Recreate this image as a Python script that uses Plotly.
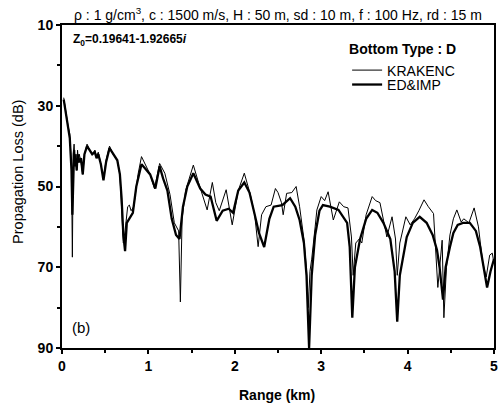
import plotly.graph_objects as go

# KRAKENC (thin line)
range_krakenc = [0.02,0.04,0.07,0.09,0.10,0.11,0.12,0.125,0.13,0.14,0.15,0.16,0.17,0.18,0.19,0.20,0.22,0.24,0.26,0.29,
                 0.32,0.35,0.38,0.40,0.42,0.45,0.48,0.51,0.55,0.59,0.64,0.67,0.69,0.71,0.73,0.76,0.78,0.80,0.83,0.88,
                 0.92,0.96,1.02,1.07,1.13,1.19,1.25,1.30,1.35,1.37,1.39,1.43,1.52,1.58,1.62,1.68,1.74,1.78,1.82,1.90,
                 1.97,2.04,2.11,2.18,2.23,2.27,2.31,2.36,2.42,2.47,2.50,2.54,2.56,2.60,2.66,2.71,2.75,2.80,2.83,2.85,
                 2.87,2.89,2.93,2.95,3.00,3.04,3.08,3.14,3.21,3.26,3.31,3.35,3.37,3.40,3.44,3.47,3.52,3.59,3.63,3.68,
                 3.76,3.82,3.86,3.88,3.91,3.98,4.03,4.08,4.13,4.19,4.24,4.30,4.35,4.40,4.42,4.45,4.49,4.53,4.57,4.62,
                 4.65,4.71,4.77,4.82,4.87,4.91,4.95,4.98,5.00]
loss_krakenc = [28,31,35,37,40,45,67.5,48,42,39.5,44,42,46,41,44,42,44,47,42,39.5,
                41,42,41,42.5,41.5,44.5,48,43.5,40,42,43.5,47,54,64,61,55,54.6,56,55,47,
                42.6,44.5,47,50.5,44.3,46.7,52,59,61,78.6,58,51,44.7,49,51.7,55.8,49,54,56,50.8,
                59.5,51,46.7,52,57,64.9,57,55,54.6,50.5,51.5,54,57,51.7,51.5,50,55,63,70.6,80,
                71,68,60,55.8,52.5,53.5,51.3,58.3,53.8,55,55.3,62.5,72,64,63,64,57,52.5,53.5,54,
                62.5,57.5,63,72,64,57.5,59.5,58,56,53.3,55,56.7,75,63.3,82.5,70,62,58,55.8,58.8,
                58,59,55.3,60,69,72.4,67,66.5,69]

# ED&IMP (thick line)
range_edimp = [0.02,0.04,0.07,0.09,0.10,0.11,0.12,0.13,0.14,0.15,0.16,0.17,0.18,0.20,0.22,0.24,0.26,0.29,0.32,0.35,
               0.38,0.40,0.42,0.45,0.48,0.51,0.55,0.59,0.64,0.67,0.69,0.71,0.73,0.75,0.78,0.82,0.86,0.92,0.96,1.02,
               1.08,1.13,1.17,1.22,1.27,1.32,1.36,1.40,1.45,1.52,1.60,1.66,1.72,1.79,1.86,1.93,1.98,2.04,2.11,2.17,
               2.22,2.28,2.34,2.40,2.45,2.55,2.64,2.70,2.75,2.80,2.83,2.86,2.89,2.93,2.98,3.02,3.10,3.20,3.30,3.33,
               3.36,3.39,3.45,3.52,3.59,3.65,3.72,3.80,3.85,3.88,3.91,3.99,4.06,4.14,4.22,4.29,4.34,4.37,4.41,4.44,
               4.49,4.53,4.58,4.64,4.72,4.79,4.84,4.88,4.92,4.96,5.00]
loss_edimp = [28.5,31,35,38,42,46,57,44,41,45,43,46,42,44,43,47,42,40,41,42,
              41.5,43,42,44.5,48.5,44,40.5,42,43.5,47,53,62,66,59,58,56.5,50,44.5,45.5,47,
              50.5,45,48,51,58,62,63,55,50,46.7,50.5,52,52.5,58.5,56,55.5,56.5,51,49,51.5,
              56,61.5,65,58,55,54.6,52.9,55,58.3,64,72,90,72,62,56,54.6,55,55.8,59,65,
              82.5,70,63,58,55.8,56.5,59,63,71,83.5,72,62.5,59,57.5,59,62,65.7,70,78,70,
              65,61.5,59.5,59,59,61,65,70,75,71,68]

x_ticks = [0, 1, 2, 3, 4, 5]
y_ticks = [10, 30, 50, 70, 90]

FONT = "Liberation Sans"

fig = go.Figure()
fig.add_trace(go.Scatter(x=range_krakenc, y=loss_krakenc, mode="lines", name="KRAKENC",
                         line=dict(color="black", width=1), legend="legend"))
fig.add_trace(go.Scatter(x=range_edimp, y=loss_edimp, mode="lines", name="ED&IMP",
                         line=dict(color="black", width=2.3), legend="legend2"))

axis_common = dict(showline=True, linecolor="black", linewidth=2, mirror=True,
                   ticks="outside", ticklen=4, tickwidth=1.5, tickcolor="black",
                   showgrid=False, zeroline=False, automargin=False,
                   tickfont=dict(family=FONT, size=14, color="black", weight="bold"))

fig.update_xaxes(range=[0, 5], tickvals=x_ticks, ticktext=[str(v) for v in x_ticks],
                 minor=dict(tickvals=[0.5, 1.5, 2.5, 3.5, 4.5], ticks="outside", ticklen=3,
                            tickwidth=1.5, tickcolor="black"),
                 **axis_common)
fig.update_yaxes(range=[90, 10], tickvals=y_ticks, ticktext=[str(v) for v in y_ticks],
                 minor=dict(tickvals=[20, 40, 60, 80], ticks="outside", ticklen=3,
                            tickwidth=1.5, tickcolor="black"),
                 **axis_common)

leg_common = dict(xanchor="left", yanchor="top", bgcolor="rgba(0,0,0,0)", borderwidth=0,
                  font=dict(family=FONT, size=14, color="black"), itemwidth=30)

fig.update_layout(
    width=500, height=403,
    margin=dict(l=62, r=6, t=25, b=55, autoexpand=False),
    paper_bgcolor="white", plot_bgcolor="white",
    font=dict(family=FONT, color="black"),
    showlegend=True,
    legend=dict(x=0.660, y=0.965,
                title=dict(text="<b>Bottom Type : D</b>", font=dict(family=FONT, size=14)),
                **leg_common),
    legend2=dict(x=0.660, y=0.864, **leg_common),
    annotations=[
        dict(text="ρ : 1 g/cm<sup>3</sup>, c : 1500 m/s, H : 50 m, sd : 10 m, f : 100 Hz, rd : 15 m",
             xref="paper", yref="paper", x=0.5, y=1.0, xanchor="center", yanchor="bottom",
             showarrow=False, font=dict(family=FONT, size=14, color="black")),
        dict(text="<b>Z<sub>0</sub>=0.19641-1.92665<i>i</i></b>",
             xref="paper", yref="paper", x=0.02, y=0.985, xanchor="left", yanchor="top",
             showarrow=False, font=dict(family=FONT, size=12, color="black")),
        dict(text="(b)", xref="paper", yref="paper", x=0.018, y=0.03, xanchor="left", yanchor="bottom",
             showarrow=False, font=dict(family=FONT, size=15, color="black")),
        dict(text="<b>Range (km)</b>", xref="paper", yref="paper", x=0.498, y=-0.115,
             xanchor="center", yanchor="top", showarrow=False,
             font=dict(family=FONT, size=14, color="black")),
        dict(text="Propagation Loss (dB)", xref="paper", yref="paper", x=-0.102, y=0.545,
             xanchor="center", yanchor="middle", textangle=-90, showarrow=False,
             font=dict(family=FONT, size=14.5, color="black")),
    ],
)

fig.write_html("out.html", config={"displayModeBar": False},
               post_script="document.body.style.margin='0px';document.body.style.overflow='hidden';")
